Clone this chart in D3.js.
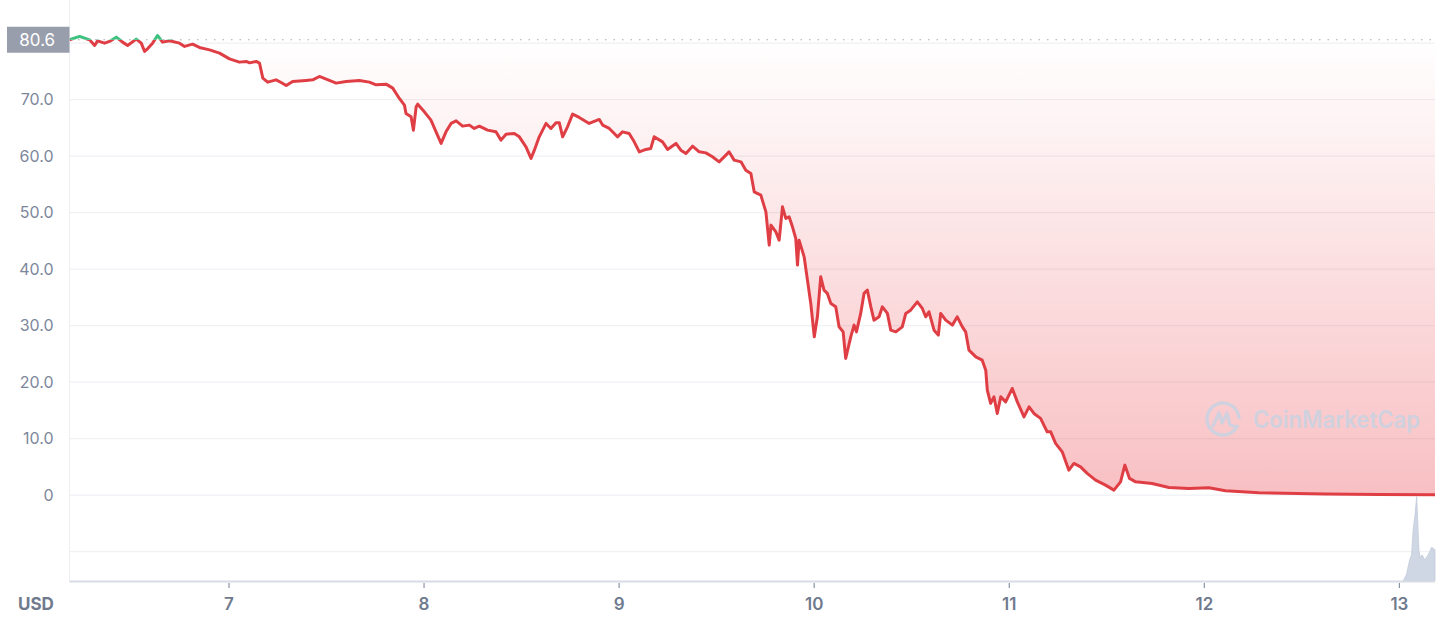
<!DOCTYPE html>
<html><head><meta charset="utf-8">
<script src="https://cdn.jsdelivr.net/npm/d3@7"></script>
<style>body{margin:0;background:#fff}svg{display:block}text{font-family:Inter,"Noto Sans",sans-serif}</style>
</head><body><svg id="c" width="1440" height="618"></svg>
<script>
// ---- data ----
const days = [6.185,6.237,6.288,6.314,6.329,6.365,6.390,6.425,6.457,6.483,
6.527,6.553,6.570,6.585,6.611,6.636,6.662,6.698,6.749,6.775,
6.816,6.851,6.903,6.954,7.005,7.056,7.091,7.108,7.142,7.159,
7.176,7.201,7.244,7.270,7.296,7.329,7.398,7.432,7.466,7.517,
7.552,7.603,7.671,7.722,7.757,7.808,7.842,7.876,7.902,7.910,
7.936,7.948,7.962,7.970,8.004,8.038,8.064,8.090,8.115,8.141,
8.167,8.200,8.235,8.260,8.286,8.328,8.371,8.397,8.423,8.465,
8.491,8.525,8.551,8.568,8.593,8.628,8.653,8.679,8.696,8.713,
8.738,8.764,8.798,8.849,8.901,8.918,8.952,8.994,9.020,9.054,
9.080,9.106,9.140,9.165,9.182,9.225,9.251,9.294,9.319,9.345,
9.379,9.413,9.447,9.481,9.515,9.541,9.566,9.592,9.627,9.652,
9.678,9.695,9.729,9.755,9.772,9.781,9.806,9.823,9.840,9.857,
9.874,9.891,9.908,9.917,9.925,9.951,9.968,9.985,10.003,10.019,
10.036,10.053,10.070,10.088,10.113,10.130,10.151,10.164,10.190,10.207,
10.219,10.241,10.258,10.275,10.293,10.309,10.335,10.352,10.378,10.395,
10.421,10.454,10.472,10.497,10.531,10.557,10.574,10.591,10.617,10.639,
10.651,10.677,10.711,10.736,10.762,10.779,10.796,10.831,10.864,10.882,
10.890,10.907,10.924,10.941,10.959,10.984,11.018,11.044,11.078,11.104,
11.129,11.163,11.197,11.215,11.240,11.274,11.308,11.334,11.368,11.402,
11.445,11.496,11.539,11.573,11.595,11.619,11.650,11.735,11.821,11.923,
12.026,12.111,12.282,12.623,12.897,13.185];
const prices = [80.6,81.19,80.58,79.59,80.41,80.0,80.30,81.06,80.18,79.59,
80.71,80.0,78.53,78.99,80.0,81.36,80.18,80.41,80.0,79.42,
79.82,79.24,78.81,78.23,77.22,76.64,76.76,76.51,76.76,76.46,
73.81,73.10,73.50,73.04,72.51,73.22,73.40,73.50,74.10,73.40,
72.92,73.22,73.40,73.10,72.62,72.74,72.04,70.21,69.03,67.56,
66.96,64.60,68.73,69.20,67.84,66.37,64.30,62.25,64.30,65.79,
66.25,65.31,65.49,64.90,65.31,64.60,64.30,62.83,63.89,64.02,
63.42,61.65,59.59,61.06,63.42,65.79,64.90,65.89,65.89,63.42,
65.19,67.43,66.85,65.79,66.50,65.49,64.90,63.42,64.30,64.02,
62.53,60.76,61.19,61.36,63.42,62.53,61.19,62.25,61.06,60.48,
61.77,60.76,60.58,59.88,58.99,59.88,60.76,59.29,58.99,57.52,
56.94,53.68,53.10,50.14,44.25,47.79,46.60,45.13,51.03,48.97,
49.26,47.49,45.43,40.71,45.13,42.18,38.05,33.93,28.02,31.56,
38.64,36.28,35.70,33.93,33.33,29.79,28.90,24.19,28.02,30.09,
28.90,32.16,35.70,36.28,33.33,30.97,31.56,33.33,32.16,29.20,
28.90,29.79,32.16,32.74,34.21,33.04,31.56,32.44,29.20,28.32,
32.16,30.97,30.09,31.56,29.79,28.90,25.66,24.48,23.89,22.12,
18.58,16.23,17.40,14.46,17.40,16.51,18.88,16.51,13.86,15.63,
14.46,13.58,11.20,11.20,9.15,7.66,4.42,5.61,5.01,3.84,
2.65,1.77,0.88,2.35,5.31,2.96,2.35,2.07,1.36,1.19,
1.29,0.76,0.41,0.18,0.09,0.05];
const volDays = [13.022,13.039,13.055,13.065,13.073,13.082,13.091,13.096,13.103,13.111,13.119,13.133,13.150,13.168,13.185];
const volumes = [0,0.8,2.5,3.1,6.1,7.7,10.0,7.3,3.5,2.7,3.1,2.5,3.1,4.0,3.7];
const openPrice = 80.6;
const gridValues = [80,70,60,50,40,30,20,10,0,-10];
const yTickValues = [70,60,50,40,30,20,10,0];
const yTickLabels = ["70.0","60.0","50.0","40.0","30.0","20.0","10.0","0"];
const xTickValues = [7,8,9,10,11,12,13];
const xTickLabels = ["7","8","9","10","11","12","13"];
const currencyLabel = "USD";

// ---- chart ----
const svg = d3.select("#c");
const L = 69.5, R = 1435, T = 28, B = 581;
const x = d3.scaleLinear().domain([6.185, 13.185]).range([L, R]);
const y = d3.scaleLinear().domain([-15.2, 82.68]).range([B, T]);
const vy = d3.scaleLinear().domain([0, 10.2]).range([B, 495]);
const data = days.map((d,i)=>({d, p: prices[i]}));
const vol = volDays.map((d,i)=>({d, v: volumes[i]}));
const red = "#e03e45", green = "#3cc27f";

const defs = svg.append("defs");
const gr = defs.append("linearGradient").attr("id","gRed").attr("gradientUnits","userSpaceOnUse")
  .attr("x1",0).attr("x2",0).attr("y1",y(openPrice)).attr("y2",y(0));
gr.append("stop").attr("offset",0).attr("stop-color","#ea3943").attr("stop-opacity",0.0);
gr.append("stop").attr("offset",1).attr("stop-color","#ea3943").attr("stop-opacity",0.32);
const gg = defs.append("linearGradient").attr("id","gGreen").attr("gradientUnits","userSpaceOnUse")
  .attr("x1",0).attr("x2",0).attr("y1",T).attr("y2",y(openPrice));
gg.append("stop").attr("offset",0).attr("stop-color",green).attr("stop-opacity",0.15);
gg.append("stop").attr("offset",1).attr("stop-color",green).attr("stop-opacity",0.02);
defs.append("clipPath").attr("id","below").append("rect")
  .attr("x",L).attr("y",y(openPrice)).attr("width",R-L+5).attr("height",B-y(openPrice));
defs.append("clipPath").attr("id","above").append("rect")
  .attr("x",L).attr("y",0).attr("width",R-L+5).attr("height",y(openPrice));

// grid
svg.append("g").selectAll("line").data(gridValues).join("line")
  .attr("x1",L).attr("x2",R).attr("y1",d=>y(d)).attr("y2",d=>y(d))
  .attr("stroke","#eff1f4").attr("stroke-width",1.2);
// y axis line
svg.append("line").attr("x1",L).attr("x2",L).attr("y1",0).attr("y2",B)
  .attr("stroke","#eceef2").attr("stroke-width",1);

// volume
svg.append("path").datum(vol)
  .attr("d", d3.area().x(d=>x(d.d)).y0(B).y1(d=>vy(d.v)))
  .attr("fill","#cfd6e4").attr("stroke","#c3cbdb").attr("stroke-width",0.8);

// area fills
const area = d3.area().x(d=>x(d.d)).y0(y(openPrice)).y1(d=>y(d.p));
svg.append("path").datum(data).attr("d",area).attr("fill","url(#gRed)").attr("clip-path","url(#below)");
svg.append("path").datum(data).attr("d",area).attr("fill","url(#gGreen)").attr("clip-path","url(#above)");

// watermark
const wm = svg.append("g").attr("opacity",0.85);
const cx = 1223, cy = 419, r = 16;
wm.append("path")
  .attr("d", d3.arc()({innerRadius:r-1.7, outerRadius:r+1.7, startAngle: 0.62*Math.PI, endAngle: 2.5*Math.PI}))
  .attr("transform",`translate(${cx},${cy})`).attr("fill","#c8d3e2");
wm.append("path")
  .attr("d",`M${cx-10},${cy+7} L${cx-4},${cy-6} L${cx-1},${cy+4} L${cx+4},${cy-6} L${cx+7},${cy+6} L${cx+13},${cy+8}`)
  .attr("fill","none").attr("stroke","#c8d3e2").attr("stroke-width",3.2).attr("stroke-linejoin","round").attr("stroke-linecap","round");
wm.append("text").attr("x",1253).attr("y",cy).attr("dy","0.36em")
  .attr("font-size",24).attr("font-weight",600).attr("fill","#c8d3e2")
  .attr("textLength",167).attr("lengthAdjust","spacingAndGlyphs").text("CoinMarketCap");

// dotted open line
svg.append("line").attr("x1",L).attr("x2",R).attr("y1",y(openPrice)).attr("y2",y(openPrice))
  .attr("stroke","#a3a9b5").attr("stroke-width",1.2).attr("stroke-dasharray","1.5 7");

// price line
const line = d3.line().x(d=>x(d.d)).y(d=>y(d.p));
svg.append("path").datum(data).attr("d",line).attr("fill","none").attr("stroke",red)
  .attr("stroke-width",3).attr("stroke-linejoin","round").attr("clip-path","url(#below)");
svg.append("path").datum(data).attr("d",line).attr("fill","none").attr("stroke",green)
  .attr("stroke-width",3).attr("stroke-linejoin","round").attr("clip-path","url(#above)");

// bottom axis
svg.append("line").attr("x1",L).attr("x2",R).attr("y1",B+0.5).attr("y2",B+0.5)
  .attr("stroke","#d6dbe4").attr("stroke-width",2);
const xa = svg.append("g").attr("transform",`translate(0,${B})`)
  .call(d3.axisBottom(x).tickValues(xTickValues).tickFormat((d,i)=>xTickLabels[i]).tickSize(5).tickPadding(12));
xa.select(".domain").remove();
xa.selectAll(".tick line").attr("stroke","#8a93a6").attr("transform","translate(0,2)").attr("stroke-width",1.2);
xa.selectAll(".tick text").attr("font-size",17).attr("font-weight",600).attr("fill","#6f7a8e")
  .attr("font-family","Inter, 'Noto Sans', sans-serif");

// left axis labels
const ya = svg.append("g").attr("transform",`translate(${L},0)`)
  .call(d3.axisLeft(y).tickValues(yTickValues).tickFormat((d,i)=>yTickLabels[i]).tickSize(0).tickPadding(16));
ya.select(".domain").remove();
ya.selectAll(".tick text").attr("font-size",16).attr("fill","#7d879b")
  .attr("font-family","Inter, 'Noto Sans', sans-serif");

// USD
svg.append("text").attr("x",18).attr("y",604).attr("dy","0.35em").attr("font-size",17)
  .attr("font-weight",700).attr("fill","#6f7a8e").text(currencyLabel);

// open price badge
svg.append("rect").attr("x",7).attr("y",y(openPrice)-13).attr("width",L-7).attr("height",26).attr("fill","#989eab");
svg.append("text").attr("x",(7+L)/2 - 1).attr("y",y(openPrice)).attr("dy","0.36em").attr("text-anchor","middle")
  .attr("font-size",17).attr("fill","#fff").text(d3.format(".1f")(openPrice));
</script></body></html>
